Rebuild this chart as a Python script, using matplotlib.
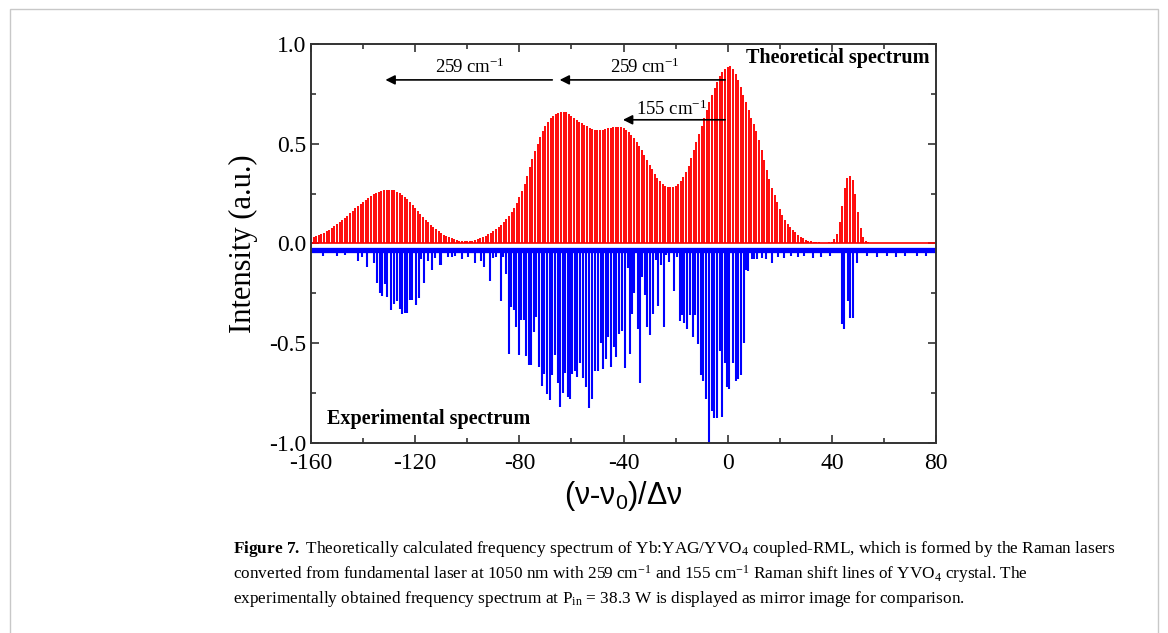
import matplotlib
matplotlib.use('Agg')
import matplotlib.pyplot as plt
from matplotlib.patches import Rectangle

plt.rcParams['font.family'] = ['Liberation Serif', 'DejaVu Serif']
plt.rcParams['mathtext.fontset'] = 'custom'
plt.rcParams['mathtext.rm'] = 'Liberation Serif'
plt.rcParams['mathtext.it'] = 'Liberation Serif:italic'
plt.rcParams['mathtext.bf'] = 'Liberation Serif:bold'
plt.rcParams['axes.unicode_minus'] = False

# theoretical spectrum: one line per mode, (v - v0)/dv = -160 ... 54
red_shift = list(range(-160, 55))
red_level = [
    0.027, 0.032, 0.037, 0.042, 0.048, 0.055, 0.062, 0.070, 0.079, 0.088,
    0.097, 0.108, 0.118, 0.129, 0.140, 0.152, 0.164, 0.176, 0.187, 0.198,
    0.209, 0.220, 0.229, 0.238, 0.246, 0.253, 0.259, 0.264, 0.267, 0.269, 0.270,
    0.269, 0.266, 0.260, 0.253, 0.244, 0.233, 0.221, 0.207, 0.193, 0.179,
    0.164, 0.149, 0.134, 0.120, 0.107, 0.094, 0.082, 0.071, 0.061, 0.052,
    0.044, 0.036, 0.030, 0.025, 0.020, 0.017, 0.013, 0.011, 0.010, 0.010,
    0.011, 0.013, 0.016, 0.020, 0.025, 0.031, 0.038, 0.046, 0.055, 0.064,
    0.072, 0.083, 0.095, 0.108, 0.122, 0.140, 0.160,
    0.180, 0.205, 0.232, 0.265, 0.300, 0.340, 0.385, 0.425, 0.465, 0.500,
    0.535, 0.565, 0.590, 0.610, 0.627, 0.640, 0.650, 0.656, 0.660, 0.660,
    0.657, 0.650, 0.640, 0.630, 0.620, 0.610, 0.602, 0.594, 0.587, 0.580,
    0.575, 0.571, 0.568, 0.568, 0.570, 0.574, 0.578, 0.581, 0.583, 0.584,
    0.584, 0.582, 0.578, 0.570, 0.557, 0.543, 0.527, 0.510, 0.490, 0.468,
    0.445, 0.420, 0.395, 0.372, 0.350, 0.330, 0.313, 0.300, 0.290, 0.284,
    0.282, 0.283,
    0.288, 0.298, 0.313, 0.333, 0.358, 0.390, 0.430, 0.470, 0.510, 0.550,
    0.590, 0.630, 0.670, 0.710, 0.745, 0.780, 0.810, 0.838, 0.858, 0.875, 0.887,
    0.888, 0.875, 0.852, 0.820, 0.785, 0.745, 0.710, 0.670, 0.630, 0.600,
    0.565, 0.520, 0.470, 0.420, 0.370, 0.325, 0.280, 0.243, 0.210, 0.175,
    0.145, 0.120, 0.100, 0.083, 0.069, 0.057, 0.045, 0.035, 0.026, 0.019,
    0.014, 0.010, 0.008, 0.006, 0.005, 0.004, 0.004, 0.004, 0.005, 0.008,
    0.020, 0.050, 0.110, 0.190, 0.280, 0.330, 0.340, 0.320, 0.250, 0.160,
    0.080, 0.030, 0.012, 0.005,
]

# experimental spectrum (mirrored): line positions and depths
blue_shift = [
    -142.0, -138.6, -135.9, -134.5, -133.5, -132.6, -131.6, -130.8, -129.4, -128.2,
    -127.1, -126.0, -125.1, -123.9, -123.1, -122.0, -121.2, -119.6, -118.6, -117.7,
    -116.7, -115.1, -113.5, -110.6, -110.0, -107.5, -104.7, -101.9, -97.2, -94.7,
    -93.4, -91.1, -88.8, -87.2, -85.1, -84.0, -83.1, -82.2, -81.2, -80.2,
    -79.2, -78.4, -77.4, -76.3, -75.7, -74.5, -73.6, -72.3, -71.4, -70.4,
    -69.2, -68.3, -67.3, -66.3, -65.3, -64.4, -63.4, -62.5, -61.4, -60.5,
    -59.6, -58.7, -57.7, -56.6, -55.4, -54.4, -53.2, -52.2, -50.9, -49.9,
    -48.7, -47.9, -46.8, -45.8, -44.8, -43.8, -42.8, -41.7, -40.7, -39.5,
    -38.4, -37.5, -36.9, -35.9, -34.6, -33.7, -32.8, -31.8, -30.8, -29.7,
    -28.8, -27.6, -26.9, -25.7, -24.5, -23.8, -22.5, -20.7, -19.6, -18.5,
    -17.6, -16.6, -15.6, -14.5, -13.4, -12.5, -11.4, -10.4, -9.4, -8.4,
    -7.1, -6.1, -5.2, -4.2, -3.1, -2.1, -1.2, -0.3, 0.6, 2.2,
    3.2, 4.1, 5.0, 6.2, 7.0, 7.9, 9.2, 10.2, 11.1, 13.0,
    14.6, 16.9, 32.6, 43.8, 44.8, 46.1, 47.1, 48.3, 49.5,
    -155.3, -150.2, -146.8, -140.4, -112.3, -105.8, -99.6, -90.1, -86.3, 19.5,
    21.8, 24.4, 27.1, 29.3, 35.8, 39.2, 53.6, 57.4, 61.0, 64.7, 68.2, 72.5, 76.1,
]
blue_level = [
    -0.09, -0.12, -0.10, -0.20, -0.25, -0.265, -0.205, -0.27, -0.335, -0.305,
    -0.29, -0.33, -0.355, -0.35, -0.35, -0.285, -0.285, -0.31, -0.275, -0.08,
    -0.20, -0.09, -0.135, -0.11, -0.11, -0.07, -0.065, -0.08, -0.10, -0.09,
    -0.12, -0.19, -0.07, -0.29, -0.155, -0.555, -0.32, -0.335, -0.42, -0.56,
    -0.385, -0.385, -0.565, -0.61, -0.61, -0.445, -0.37, -0.62, -0.715, -0.655,
    -0.755, -0.785, -0.66, -0.56, -0.70, -0.82, -0.75, -0.65, -0.77, -0.78,
    -0.655, -0.64, -0.67, -0.60, -0.675, -0.72, -0.825, -0.78, -0.64, -0.64,
    -0.50, -0.63, -0.58, -0.47, -0.62, -0.52, -0.57, -0.455, -0.44, -0.625,
    -0.125, -0.555, -0.355, -0.25, -0.43, -0.70, -0.17, -0.26, -0.42, -0.46,
    -0.355, -0.085, -0.315, -0.11, -0.42, -0.06, -0.095, -0.24, -0.07, -0.39,
    -0.36, -0.40, -0.43, -0.36, -0.47, -0.36, -0.505, -0.66, -0.69, -0.78,
    -1.0, -0.84, -0.875, -0.875, -0.54, -0.87, -0.60, -0.72, -0.73, -0.60,
    -0.69, -0.68, -0.66, -0.50, -0.135, -0.14, -0.08, -0.08, -0.08, -0.075,
    -0.08, -0.10, -0.075, -0.405, -0.43, -0.29, -0.375, -0.375, -0.10,
    -0.062, -0.065, -0.06, -0.07, -0.075, -0.07, -0.068, -0.075, -0.07, -0.07,
    -0.075, -0.065, -0.07, -0.065, -0.068, -0.062, -0.065, -0.07, -0.062, -0.068,
    -0.065, -0.062, -0.065,
]
blue_floor = -0.034

x_ticks = [-160, -120, -80, -40, 0, 40, 80]
y_ticks = [-1.0, -0.5, 0.0, 0.5, 1.0]

fig = plt.figure(figsize=(11.68, 6.33), dpi=100)
ax = fig.add_axes([0.2663, 0.3002, 0.5351, 0.6303])

ax.vlines(red_shift, 0, red_level, color='#ff0000', lw=1.35)
ax.axhline(0, color='#ff0000', lw=1.2)
ax.axhline(blue_floor, color='#0000ff', lw=3.8)
ax.vlines(blue_shift, blue_floor, blue_level, color='#0000ff', lw=1.5)

ax.set_xlim(-160, 80)
ax.set_ylim(-1.0, 1.0)
ax.set_xticks(x_ticks)
ax.set_xticks(range(-160, 81, 20), minor=True)
ax.set_yticks(y_ticks)
ax.set_yticks([-0.75, -0.25, 0.25, 0.75], minor=True)
ax.set_yticklabels(['%.1f' % v for v in y_ticks])
ax.tick_params(which='both', direction='in', top=True, right=True,
               labelsize=17, color='#333333', width=1.2)
ax.tick_params(which='major', length=6)
ax.tick_params(which='minor', length=3.5)
ax.tick_params(axis='x', pad=7)
for s in ax.spines.values():
    s.set_color('#333333')
    s.set_linewidth(1.4)

ax.set_ylabel('Intensity (a.u.)', fontsize=22, labelpad=8)
ax.set_xlabel(r'$\mathregular{(ν\text{-}ν_0)/Δν}$', fontsize=22,
              family=['Liberation Sans Narrow', 'Liberation Sans', 'DejaVu Sans'], labelpad=4)

ax.annotate('', xy=(-132.5, 0.82), xytext=(-66.3, 0.82),
            arrowprops=dict(arrowstyle='-|>', color='black', lw=1.2, mutation_scale=14))
ax.annotate('', xy=(-65.6, 0.82), xytext=(0.1, 0.82),
            arrowprops=dict(arrowstyle='-|>', color='black', lw=1.2, mutation_scale=14))
ax.annotate('', xy=(-41.3, 0.62), xytext=(0.1, 0.62),
            arrowprops=dict(arrowstyle='-|>', color='black', lw=1.2, mutation_scale=14))
ax.text(-99, 0.885, '259 cm$^{-1}$', fontsize=13.5, ha='center', va='center')
ax.text(-32, 0.885, '259 cm$^{-1}$', fontsize=13.5, ha='center', va='center')
ax.text(-21.7, 0.675, '155 cm$^{-1}$', fontsize=13.5, ha='center', va='center')
ax.text(77.5, 0.93, 'Theoretical spectrum', fontsize=14.5, fontweight='bold',
        ha='right', va='center')
ax.text(-154, -0.882, 'Experimental spectrum', fontsize=14.5, fontweight='bold',
        ha='left', va='center')

# caption and page frame
fig.patches.append(Rectangle((10 / 1168, -0.1), 1148 / 1168, 1.1 - 9 / 633,
                             transform=fig.transFigure, fill=False,
                             edgecolor='#c8c8c8', lw=1.0))
cap_lines = [
    r'$\mathbf{Figure\ 7.}$ Theoretically calculated frequency spectrum of Yb:YAG/YVO$_4$ coupled-RML, which is formed by the Raman lasers',
    r'converted from fundamental laser at 1050 nm with 259 cm$^{-1}$ and 155 cm$^{-1}$ Raman shift lines of YVO$_4$ crystal. The',
    r'experimentally obtained frequency spectrum at P$_{\mathrm{in}}$ = 38.3 W is displayed as mirror image for comparison.',
]
for i, line in enumerate(cap_lines):
    fig.text(233 / 1168, 1 - (549 + 25 * i) / 633, line, fontsize=12.4,
             ha='left', va='center')

fig.savefig('out.png', dpi=100)
